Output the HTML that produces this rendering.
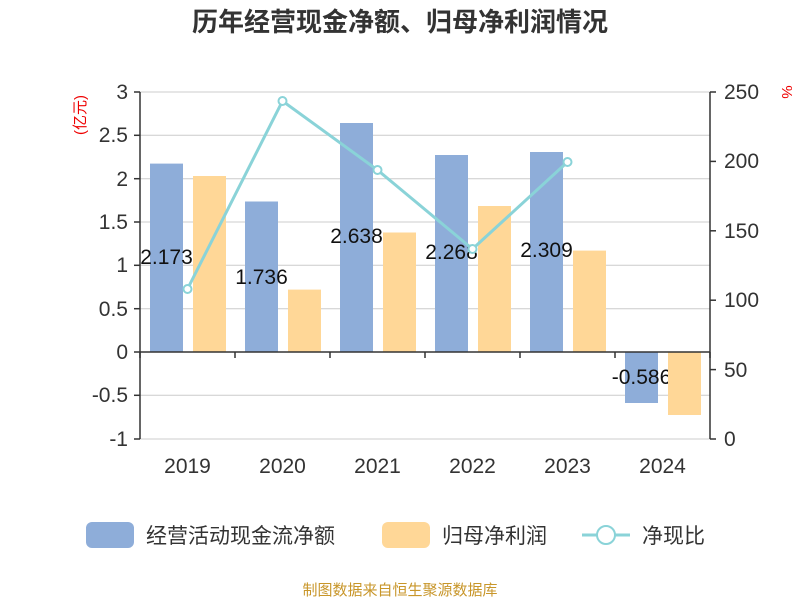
<!DOCTYPE html>
<html><head><meta charset="utf-8"><style>
body{margin:0;background:#fff;}
svg text{font-family:"Liberation Sans","Noto Sans CJK SC",sans-serif;}
</style></head><body>
<svg width="800" height="600" xmlns="http://www.w3.org/2000/svg">
<rect width="800" height="600" fill="#fff"/>
<text x="400" y="31" text-anchor="middle" font-size="26" font-weight="bold" fill="#333">历年经营现金净额、归母净利润情况</text>
<g stroke="#ccc" stroke-width="1">
<line x1="140" y1="92" x2="710" y2="92"/>
<line x1="140" y1="135.3" x2="710" y2="135.3"/>
<line x1="140" y1="178.7" x2="710" y2="178.7"/>
<line x1="140" y1="222" x2="710" y2="222"/>
<line x1="140" y1="265.3" x2="710" y2="265.3"/>
<line x1="140" y1="308.7" x2="710" y2="308.7"/>
<line x1="140" y1="395.3" x2="710" y2="395.3"/>
<line x1="140" y1="439" x2="710" y2="439"/>
</g>
<g fill="#8eadd9">
<rect x="150" y="163.6" width="33" height="188.4"/>
<rect x="245" y="201.5" width="33" height="150.5"/>
<rect x="340" y="123" width="33" height="229"/>
<rect x="435" y="155" width="33" height="197"/>
<rect x="530" y="152" width="33" height="200"/>
<rect x="625" y="352" width="33" height="51"/>
</g>
<g font-size="21" fill="#111" text-anchor="middle">
<text x="166.5" y="264">2.173</text><text x="261.5" y="284">1.736</text><text x="356.5" y="243">2.638</text><text x="451.5" y="259">2.268</text><text x="546.5" y="257">2.309</text><text x="641.5" y="384">-0.586</text>
</g>
<g fill="#ffd797">
<rect x="193" y="176" width="33" height="176"/>
<rect x="288" y="289.6" width="33" height="62.4"/>
<rect x="383" y="232.5" width="33" height="119.5"/>
<rect x="478" y="206" width="33" height="146"/>
<rect x="573" y="250.6" width="33" height="101.4"/>
<rect x="668" y="352" width="33" height="63"/>
</g>
<g stroke="#333" stroke-width="1.5" fill="none">
<line x1="140" y1="92" x2="140" y2="439"/>
<line x1="710" y1="92" x2="710" y2="439"/>
<line x1="140" y1="352" x2="710" y2="352"/>
</g>
<g stroke="#333" stroke-width="1.5">
<line x1="134" y1="92" x2="140" y2="92"/><line x1="134" y1="135.3" x2="140" y2="135.3"/><line x1="134" y1="178.7" x2="140" y2="178.7"/><line x1="134" y1="222" x2="140" y2="222"/><line x1="134" y1="265.3" x2="140" y2="265.3"/><line x1="134" y1="308.7" x2="140" y2="308.7"/><line x1="134" y1="352" x2="140" y2="352"/><line x1="134" y1="395.3" x2="140" y2="395.3"/><line x1="134" y1="439" x2="140" y2="439"/>
<line x1="710" y1="92" x2="716" y2="92"/><line x1="710" y1="161.4" x2="716" y2="161.4"/><line x1="710" y1="230.8" x2="716" y2="230.8"/><line x1="710" y1="300.2" x2="716" y2="300.2"/><line x1="710" y1="369.6" x2="716" y2="369.6"/><line x1="710" y1="439" x2="716" y2="439"/>
<line x1="140" y1="352" x2="140" y2="358"/><line x1="235" y1="352" x2="235" y2="358"/><line x1="330" y1="352" x2="330" y2="358"/><line x1="425" y1="352" x2="425" y2="358"/><line x1="520" y1="352" x2="520" y2="358"/><line x1="615" y1="352" x2="615" y2="358"/><line x1="710" y1="352" x2="710" y2="358"/>
</g>
<g font-size="21" fill="#333" text-anchor="end">
<text x="128" y="99">3</text><text x="128" y="142">2.5</text><text x="128" y="186">2</text><text x="128" y="229">1.5</text><text x="128" y="272">1</text><text x="128" y="316">0.5</text><text x="128" y="359">0</text><text x="128" y="402">-0.5</text><text x="128" y="446">-1</text>
</g>
<g font-size="21" fill="#333" text-anchor="start">
<text x="724" y="99">250</text><text x="724" y="168">200</text><text x="724" y="238">150</text><text x="724" y="307">100</text><text x="724" y="377">50</text><text x="724" y="446">0</text>
</g>
<text transform="translate(85,115) rotate(-90)" font-size="15" fill="#e00" text-anchor="middle">(亿元)</text>
<text transform="translate(782,92) rotate(90)" font-size="15" fill="#e00" text-anchor="middle">%</text>
<g font-size="21" fill="#333" text-anchor="middle">
<text x="187.5" y="473">2019</text><text x="282.5" y="473">2020</text><text x="377.5" y="473">2021</text><text x="472.5" y="473">2022</text><text x="567.5" y="473">2023</text><text x="662.5" y="473">2024</text>
</g>
<polyline points="187.5,289 282.5,101 377.5,170 472.5,249 567.5,162" fill="none" stroke="#8ad3d8" stroke-width="3"/>
<g fill="#fff" stroke="#8ad3d8" stroke-width="2">
<circle cx="187.5" cy="289" r="4"/><circle cx="282.5" cy="101" r="4"/><circle cx="377.5" cy="170" r="4"/><circle cx="472.5" cy="249" r="4"/><circle cx="567.5" cy="162" r="4"/>
</g>
<rect x="86" y="522" width="48" height="26" rx="6" fill="#8eadd9"/>
<text x="146" y="543" font-size="21" fill="#333">经营活动现金流净额</text>
<rect x="382" y="522" width="48" height="26" rx="6" fill="#ffd797"/>
<text x="442" y="543" font-size="21" fill="#333">归母净利润</text>
<line x1="582" y1="535" x2="630" y2="535" stroke="#8ad3d8" stroke-width="3"/>
<circle cx="606" cy="535" r="9" fill="#fff" stroke="#8ad3d8" stroke-width="2"/>
<text x="642" y="543" font-size="21" fill="#333">净现比</text>
<text x="400" y="595" text-anchor="middle" font-size="15" fill="#c8962a">制图数据来自恒生聚源数据库</text>
</svg>
</body></html>
